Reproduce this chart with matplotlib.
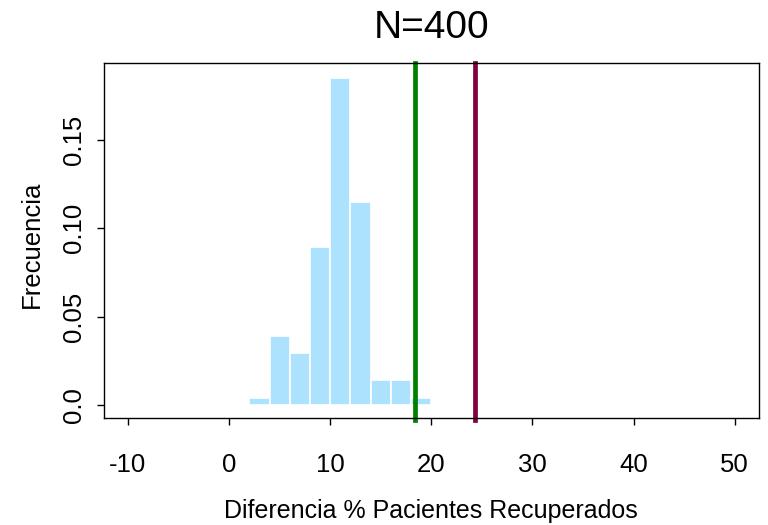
import matplotlib
matplotlib.use("Agg")
import matplotlib.pyplot as plt

plt.rcParams['font.family'] = ['Liberation Sans', 'DejaVu Sans']

# histogram bins (left edges, width 2) and densities
bin_left = [2, 4, 6, 8, 10, 12, 14, 16, 18]
density = [0.0042, 0.0393, 0.0294, 0.0894, 0.1848, 0.1147, 0.0143, 0.0143, 0.0042]
bin_width = 2

line_green = 18.4
line_red = 24.3

x_ticks = [-10, 0, 10, 20, 30, 40, 50]
y_ticks = [0.0, 0.05, 0.10, 0.15]
y_labels = ["0.0", "0.05", "0.10", "0.15"]

W, H = 768, 525
fig = plt.figure(figsize=(W / 100, H / 100), dpi=100)
left, right, top, bottom = 103.7, 759, 63.3, 418
ax = fig.add_axes([left / W, 1 - bottom / H, (right - left) / W, (bottom - top) / H])

ax.bar(bin_left, density, width=bin_width, align='edge',
       color='#ADE2FF', edgecolor='white', linewidth=1.2)

ax.axvline(line_green, color='#008000', lw=3.4, ymin=-0.006, clip_on=False)
ax.axvline(line_red, color='#800040', lw=3.4, ymin=-0.006, clip_on=False)

ax.set_xlim(-12.4, 52.4)
ax.set_ylim(-0.0074, 0.1934)

ax.set_xticks(x_ticks)
ax.set_xticklabels([str(t) for t in x_ticks])
ax.set_yticks(y_ticks)
ax.set_yticklabels(y_labels, rotation=90, va='center')

for s in ax.spines.values():
    s.set_linewidth(1.0)
    s.set_color('black')

ax.tick_params(axis='x', direction='out', length=5, width=1, pad=20, labelsize=18.5)
ax.tick_params(axis='y', direction='out', length=5, width=1, pad=8, labelsize=18.5)

fig.text(((left + right) / 2) / W, 1 - 38 / H, 'N=400', ha='center', va='baseline', fontsize=28)
fig.text(((left + right) / 2) / W, 1 - 518 / H, 'Diferencia % Pacientes Recuperados',
         ha='center', va='baseline', fontsize=18)
fig.text(32 / W, 1 - 244 / H, 'Frecuencia', rotation=90, ha='center', va='center', fontsize=18.5)

fig.savefig('out.png', dpi=100)
